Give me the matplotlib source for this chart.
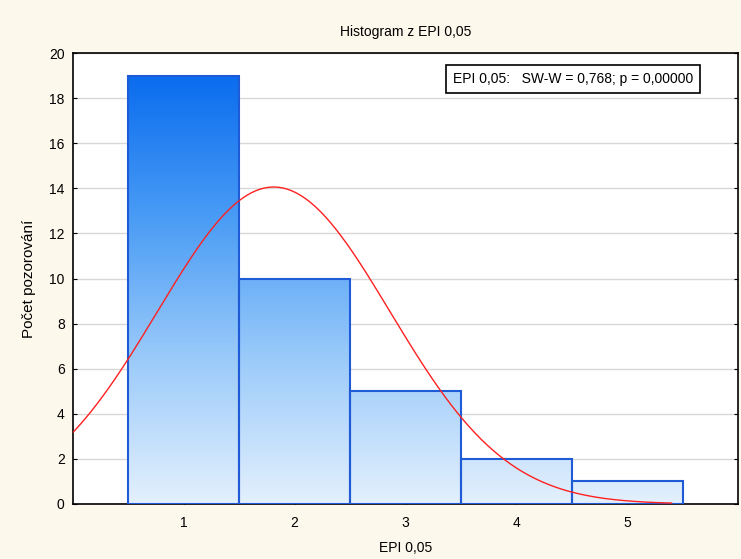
import numpy as np
import matplotlib
matplotlib.use("Agg")
import matplotlib.pyplot as plt
from matplotlib.colors import LinearSegmentedColormap

plt.rcParams['font.family'] = ['Liberation Sans', 'DejaVu Sans']

# data
hodnoty = [1, 2, 3, 4, 5]
cetnosti = [19, 10, 5, 2, 1]
popisek = "EPI 0,05:   SW-W = 0,768; p = 0,00000"

fig = plt.figure(figsize=(7.41, 5.59), dpi=100)
fig.patch.set_facecolor("#fdf8ec")
ax = fig.add_axes([0.0985, 0.0984, 0.8975, 0.8066])
ax.set_facecolor("white")

ax.set_xlim(0, 6)
ax.set_ylim(0, 20)
ax.set_yticks(range(0, 21, 2))
ax.set_xticks(hodnoty)
ax.grid(axis="y", color="#d8d8d8", lw=1)
ax.set_axisbelow(True)

# gradient bars
cmap = LinearSegmentedColormap.from_list("g", ["#e4f0fd", "#9ccbfa", "#4a9cf5", "#0a6cee"])
grad = np.linspace(0, 1, 256).reshape(-1, 1)
bars = ax.bar(hodnoty, cetnosti, width=1.0, facecolor="none",
              edgecolor="#1f5bd6", lw=1.5, zorder=3)
for b in bars:
    im = ax.imshow(grad, cmap=cmap, origin="lower", aspect="auto",
                   extent=[0, 6, 0, 19], zorder=2)
    im.set_clip_path(b)

# fitted normal curve
data = np.repeat(hodnoty, cetnosti)
mu = data.mean()
sd = data.std(ddof=1)
xs = np.linspace(0, 5.4, 300)
ys = len(data) * 1.0 / (sd * np.sqrt(2 * np.pi)) * np.exp(-0.5 * ((xs - mu) / sd) ** 2)
ax.plot(xs, ys, color="#ff2020", lw=1, zorder=4)

ax.tick_params(direction="in", length=3, labelsize=10, colors="black",
               right=True, top=False)
ax.tick_params(axis="x", pad=9)
ax.tick_params(axis="y", pad=6)
for s in ax.spines.values():
    s.set_linewidth(1.2)

ax.text(0.571, 0.943, popisek, transform=ax.transAxes, fontsize=10,
        va="center", ha="left",
        bbox=dict(boxstyle="square,pad=0.5", fc="white", ec="black", lw=1.2))

ax.set_title("Histogram z EPI 0,05", fontsize=10, pad=12)
ax.set_xlabel("EPI 0,05", fontsize=10)
ax.xaxis.set_label_coords(0.5, -0.082)
ax.set_ylabel("Počet pozorování", fontsize=11)
ax.yaxis.set_label_coords(-0.056, 0.5)

fig.savefig("out.png", dpi=100, facecolor=fig.get_facecolor())
